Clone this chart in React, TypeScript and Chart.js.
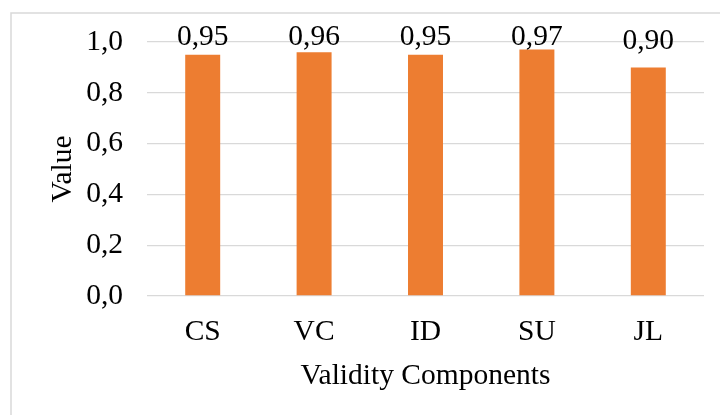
import React, { useEffect, useRef } from "react";
import { Chart, registerables } from "chart.js";

Chart.register(...registerables);

const categories = ["CS", "VC", "ID", "SU", "JL"];
const values = [0.95, 0.96, 0.95, 0.97, 0.9];
const yMin = 0;
const yMax = 1.0;
const yStep = 0.2;
const xTitle = "Validity Components";
const yTitle = "Value";

const FONT = "'Liberation Serif', 'Times New Roman', serif";
const FS = 29.5;
const BAR_COLOR = "#ED7D31";
const GRID_COLOR = "#D9D9D9";

const fmt = (v: number, d: number) => v.toFixed(d).replace(".", ",");

const frame = {
  id: "frame",
  beforeDraw(chart: any) {
    const ctx = chart.ctx;
    ctx.save();
    ctx.fillStyle = "#fff";
    ctx.fillRect(0, 0, chart.width, chart.height);
    ctx.strokeStyle = GRID_COLOR;
    ctx.lineWidth = 1.5;
    ctx.strokeRect(11, 13, 900, 600);
    ctx.restore();
  },
};

const labels = {
  id: "barLabels",
  afterDatasetsDraw(chart: any) {
    const ctx = chart.ctx;
    const meta = chart.getDatasetMeta(0);
    const area = chart.chartArea;
    ctx.save();
    ctx.font = `${FS}px ${FONT}`;
    ctx.fillStyle = "#000";
    ctx.textAlign = "center";
    ctx.textBaseline = "alphabetic";
    meta.data.forEach((bar: any, i: number) => {
      const v = chart.data.datasets[0].data[i] as number;
      const y = Math.max(bar.y - 18, area.top + 3);
      ctx.fillText(fmt(v, 2), bar.x, y);
    });
    ctx.restore();
  },
};

export default function App() {
  const ref = useRef<HTMLCanvasElement>(null);
  useEffect(() => {
    if (!ref.current) return;
    const chart = new Chart(ref.current, {
      type: "bar",
      data: {
        labels: categories,
        datasets: [
          {
            data: values,
            backgroundColor: BAR_COLOR,
            categoryPercentage: 1,
            barPercentage: 0.314,
          },
        ],
      },
      options: {
        responsive: false,
        animation: false,
        layout: { padding: { left: 0, right: 16, top: 42, bottom: 0 } },
        plugins: {
          legend: { display: false },
          tooltip: { enabled: false },
        },
        scales: {
          x: {
            grid: { display: false, drawTicks: false },
            border: { display: false },
            ticks: {
              color: "#000",
              font: { family: FONT, size: FS },
              padding: 19,
            },
            title: {
              display: true,
              text: xTitle,
              color: "#000",
              font: { family: FONT, size: FS },
              padding: { top: 4, bottom: 21 },
            },
            afterFit: (s: any) => {
              s.height = 119;
            },
          },
          y: {
            min: yMin,
            max: yMax,
            grid: { color: GRID_COLOR, lineWidth: 1.3, drawTicks: false },
            border: { display: false },
            ticks: {
              stepSize: yStep,
              color: "#000",
              font: { family: FONT, size: FS },
              padding: 24,
              callback: (v: any) => fmt(Number(v), 1),
            },
            title: {
              display: true,
              text: yTitle,
              color: "#000",
              font: { family: FONT, size: FS },
              padding: { top: 46, bottom: 0 },
            },
            afterFit: (s: any) => {
              s.width = 147;
            },
          },
        },
      },
      plugins: [frame, labels],
    });
    return () => chart.destroy();
  }, []);
  return (
    <div style={{ position: "fixed", left: 0, top: 0, width: 720, height: 415 }}>
      <canvas ref={ref} width={720} height={415} />
    </div>
  );
}
